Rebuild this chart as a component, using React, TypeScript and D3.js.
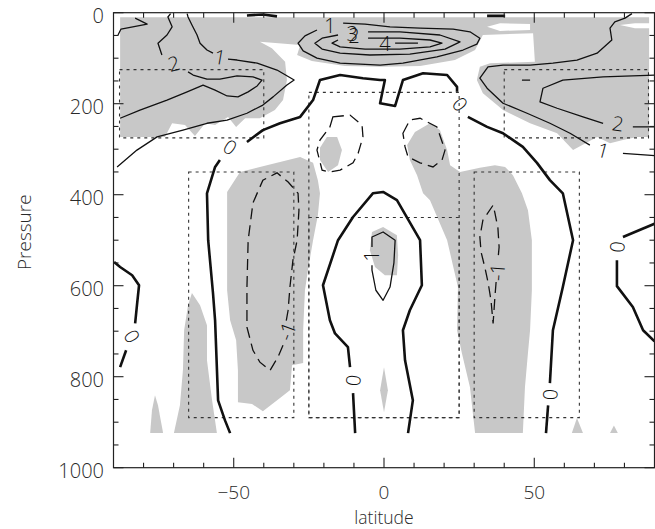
import React from 'react';
import * as d3 from 'd3';

type Pt = [number, number];

// ---------- axes ----------
const latMajorTicks = [-50, 0, 50];
const latTickLabels = ['\u221250', '0', '50'];
const latMinorTicks = [-80, -70, -60, -40, -30, -20, -10, 10, 20, 30, 40, 60, 70, 80];
const pMajorTicks = [0, 200, 400, 600, 800, 1000];
const pTickLabels = ['0', '200', '400', '600', '800', '1000'];
const pMinorTicks = [50, 100, 150, 250, 300, 350, 450, 500, 550, 650, 700, 750, 850, 900, 950];
const xTitle = 'latitude';
const yTitle = 'Pressure';

// ---------- shaded (gray) regions, [lat, pressure] ----------
const shadeTopBand: Pt[] = [[-87.8,10],[88.2,10],[88.2,273],[84.2,273],[79.5,280],[75.2,287],[70.9,273],[62.9,302],[57.6,265],[48.6,243],[39.6,214],[32.9,177],[30.9,148],[31.9,119],[35.3,111],[50.2,108],[49.6,45],[32.9,49],[30.3,82],[23.6,104],[12,117],[-1.3,119],[-13,117],[-24,106],[-28.9,93],[-27.9,71],[-41.3,64],[-37.3,78],[-32.9,108],[-32.3,148],[-33.6,192],[-36.3,214],[-41.3,232],[-46.2,232],[-49.2,251],[-51.9,229],[-56.2,247],[-59.5,243],[-62.9,271],[-66.2,247],[-70.5,243],[-72.9,273],[-87.8,273]];
const shadeSmallCenter: Pt[] = [[-19,273],[-15.6,273],[-14,302],[-15.3,335],[-18.6,350],[-21.3,324],[-21.3,297]];
const shadeRightColumn: Pt[] = [[15.3,243],[18.6,258],[21,302],[22,335],[25.3,350],[31.9,341],[36.9,335],[40.3,339],[42.9,357],[45.9,397],[47.9,434],[49.2,500],[49.2,610],[48.6,698],[47.9,748],[46.9,823],[46.2,924],[30.3,924],[28.6,823],[25.9,748],[24.3,698],[24.6,603],[21,500],[15.3,412],[13,397],[11,357],[8.6,324],[7.7,291],[10.3,262]];
const shadeLeftColumn: Pt[] = [[-27.9,317],[-23.6,330],[-22,368],[-21.3,397],[-22,445],[-23.6,500],[-25.3,566],[-26.3,610],[-26.9,698],[-26.9,770],[-30.6,775],[-31.3,830],[-34.6,847],[-40.3,876],[-43.9,860],[-48.6,856],[-48.6,786],[-49.2,720],[-51.2,676],[-52.2,610],[-52.2,394],[-47.9,350],[-41.3,339],[-34.6,328]];
const shadeSpikeA: Pt[] = [[-76.2,841],[-75.2,863],[-73.5,924],[-77.8,924],[-77.2,874]];
const shadeSpikeB: Pt[] = [[-63.9,616],[-61.2,643],[-58.9,687],[-58.9,764],[-57.2,852],[-55.6,924],[-69.9,924],[-67.9,863],[-66.9,786],[-66.5,698],[-65.2,643]];
const shadeDiamond: Pt[] = [[0,779],[1.3,830],[0,878],[-1.3,830]];
const shadeTriA: Pt[] = [[64.2,891],[66.2,924],[62.5,924]];
const shadeTriB: Pt[] = [[76.5,907],[77.8,924],[75.2,924]];
const shadeBlob: Pt[] = [[-4,482],[-0.3,471],[4.3,489],[4.7,533],[4.3,577],[0.3,577],[-3,559],[-4.7,522]];
const shadeRegions: Pt[][] = [shadeTopBand, shadeSmallCenter, shadeRightColumn, shadeLeftColumn, shadeSpikeA, shadeSpikeB, shadeDiamond, shadeTriA, shadeTriB, shadeBlob];

const holeA: Pt[] = [[34.3,31],[38.6,23],[48.6,25],[48.6,38],[38.6,40]];
const holeB: Pt[] = [[78.5,27],[83.5,23],[88.5,23],[88.5,34],[83.5,34]];
const holes: Pt[][] = [holeA, holeB];

// ---------- zero contours (thick) ----------
const zeroContours: Pt[][] = [
  [[-45.6,6],[-40.3,4],[-35.6,8]],
  [[34.3,7],[40.3,7]],
  [[-51.2,924],[-52.9,896],[-55.2,852],[-56.2,676],[-56.9,616],[-58.5,500],[-58.9,397],[-56.2,339],[-54.6,324]],
  [[-45.6,284],[-40.3,258],[-34.6,243],[-27.9,229],[-23.6,192],[-21.3,148],[-14.6,137],[-7,144],[-1.3,148],[0.3,148],[-1.3,199],[3.7,205],[6.3,148],[13,133],[21,137],[24.3,163],[24.3,174]],
  [[27.9,229],[34.3,251],[39.6,265],[46.2,295],[50.9,330],[55.2,368],[59.5,397],[62.9,500],[59.5,603],[56.2,698],[55.2,814]],
  [[54.6,863],[53.9,924]],
  [[-9.6,924],[-10,874],[-10.3,836]],
  [[-11.3,779],[-12,735],[-16.3,705],[-18,676],[-20.3,599],[-15.3,500],[-10.3,449],[-3.7,397],[-0.3,394],[4.3,412],[12,500],[12.6,599],[8.6,654],[6.3,698],[7,764],[9.6,852],[8,924]],
  [[-89.8,548],[-87.8,559],[-83.8,577],[-81.5,599],[-82.2,643],[-82.8,683]],
  [[-85.8,742],[-87.8,779]],
  [[90,464],[79.5,493]],
  [[77.5,544],[77.5,601],[82.8,647],[86.2,698],[90,722]],
];

// ---------- positive contours (thin solid) ----------
const posContours: Pt[][] = [
  [[-88.5,49],[-87.5,36],[-78.8,25],[-82.8,12]],
  [[-88.8,339],[-82.2,302],[-75.5,273],[-66.9,258],[-58.9,243],[-52.2,236],[-45.6,221],[-40.3,203],[-36.9,185],[-32.3,159],[-29.9,148],[-35.6,126],[-42.2,111],[-48.9,104],[-51.9,102]],
  [[-56.9,89],[-58.9,82],[-61.2,67],[-62.2,49],[-63.9,27],[-65.2,9.5],[-65.5,2]],
  [[-87.8,232],[-81.2,214],[-72.2,192],[-65.5,174],[-60.2,159],[-56.2,170],[-52.2,183],[-48.6,185],[-45.2,174],[-42.2,161],[-40.6,148],[-43.6,141],[-48.9,139],[-54.6,146],[-58.9,146],[-63.5,137],[-65.2,130]],
  [[-73.9,93],[-75.2,67],[-72.2,49],[-70.5,31],[-71.9,9.5],[-71,2]],
  [[-13.6,23],[-6.3,25],[2,31],[12,34],[23,36],[28.6,42],[31.9,56],[30.9,69],[26.3,82],[17.6,97],[6.3,111],[-1.3,115],[-14.6,111],[-22.3,100],[-26.9,84],[-28.6,67],[-26.3,51],[-22.3,38]],
  [[-5.3,42],[5.3,42],[18.6,49],[25.3,64],[20.3,80],[8.6,91],[-4.7,93],[-14.6,89],[-20.6,80],[-23,67],[-20.6,56],[-15.3,49]],
  [[-5.3,56],[5.3,56],[15.3,60],[19.3,67],[15.3,75],[5.3,80],[-6.3,80],[-14.6,75],[-17.3,67],[-15.3,60]],
  [[3.7,67],[11.3,67]],
  [[82.5,2],[80.2,12],[76.8,20],[75.2,34],[75.8,60],[70.9,89],[64.2,104],[56.2,111],[48.6,115],[39.6,115],[34.6,119],[31.9,144],[34.3,166],[39.6,199],[47.6,221],[55.2,243],[61.9,265],[68.5,291]],
  [[79.5,309],[87.8,313],[90,314]],
  [[90,137],[72.9,141],[59.5,148],[52.9,166],[51.9,196],[57.6,210],[66.2,229],[72.9,243]],
  [[82.8,251],[87.8,251],[90,251]],
  [[45.9,148],[48.6,148]],
  [[-4,555],[-4,566],[-2.7,610],[-0.3,632],[2,603],[3.3,550],[3.7,500],[-0.3,482],[-4,493],[-4,515]],
];

// ---------- negative contours (thin dashed) ----------
const negClosed: Pt[][] = [
  [[-17,229],[-11.3,225],[-7.3,247],[-7,273],[-8.6,309],[-10.3,330],[-14.6,346],[-18,350],[-20.6,346],[-22.3,302],[-21.3,280],[-18,251]],
  [[6.3,265],[8.6,236],[12,232],[17.6,251],[20.3,302],[19.3,324],[16.3,339],[12,330],[8,317],[7,295]],
];
const negOpen: Pt[][] = [
  [[-33.6,731],[-35.3,757],[-37.9,786],[-41.3,768],[-43.6,742],[-45.6,691],[-45.6,603],[-45.2,500],[-43.6,418],[-40.3,368],[-35.6,352],[-31.9,372],[-28.6,397],[-28.3,434],[-28.9,500],[-30.3,544],[-31.3,603],[-31.9,654],[-32.6,680]],
  [[37.3,592],[36.9,625],[36.6,654],[36.3,683],[35.6,632],[34.6,592],[33.6,561],[32.3,526],[31.9,493],[32.9,456],[36.3,423],[36.9,440],[37.9,473],[38.3,515],[37.9,544]],
];

// ---------- dotted boxes [lat0, lat1, p0, p1] ----------
const boxes: [number, number, number, number][] = [
  [-88, -40, 125, 275],
  [40, 88, 125, 275],
  [-65, -30, 350, 890],
  [30, 65, 350, 890],
  [-25, 25, 175, 890],
  [-25, 25, 450, 890],
];

// ---------- contour labels ----------
const labelText = ['0', '0', '0', '0', '0', '0', '1', '2', '1', '3', '2', '4', '1', '2', '-1', '-1', '1'];
const labelLat = [-51.2, 25.3, 55.2, -10.3, -83.8, 77.5, -54.6, -69.9, -18, -10.6, -10.0, 0.3, 72.9, 77.8, -32.3, 37.6, -4.3];
const labelP = [295, 201, 839, 808, 711, 515, 97, 111, 29, 45, 51, 67, 302, 243, 700, 570, 535];
const labelRot = [34, 50, -88, -85, 60, -85, 10, -15, 0, 0, 0, 0, 15, 8, -70, -85, -90];

const X0 = 113.5, X1 = 654.5, Y0 = 12.7, Y1 = 467.7;

export default function App() {
  const x = d3.scaleLinear().domain([-90, 90]).range([X0, X1]);
  const y = d3.scaleLinear().domain([0, 1000]).range([Y0, Y1]);
  const line = d3.line<Pt>().x(d => x(d[0])).y(d => y(d[1]));
  const closed = d3.line<Pt>().x(d => x(d[0])).y(d => y(d[1])).curve(d3.curveLinearClosed);
  const font = '"Open Sans", "DejaVu Sans", sans-serif';
  const ink = '#111';
  const txt = '#2a2a2a';

  return (
    <svg width={655} height={529} style={{ position: 'absolute', left: 0, top: 0, background: '#fff' }}>
      <defs>
        <clipPath id="plot">
          <rect x={X0} y={Y0} width={X1 - X0} height={Y1 - Y0} />
        </clipPath>
      </defs>
      <g clipPath="url(#plot)">
        {shadeRegions.map((r, i) => (
          <path key={'s' + i} d={closed(r) || ''} fill="#c8c8c8" stroke="none" />
        ))}
        {holes.map((r, i) => (
          <path key={'h' + i} d={closed(r) || ''} fill="#fff" stroke="none" />
        ))}
        {boxes.map((b, i) => (
          <rect key={'b' + i} x={x(b[0])} y={y(b[2])} width={x(b[1]) - x(b[0])} height={y(b[3]) - y(b[2])}
            fill="none" stroke="#333" strokeWidth={1.1} strokeDasharray="3,4" />
        ))}
        {zeroContours.map((c, i) => (
          <path key={'z' + i} d={line(c) || ''} fill="none" stroke={ink} strokeWidth={2.6} strokeLinejoin="round" />
        ))}
        {posContours.map((c, i) => (
          <path key={'p' + i} d={line(c) || ''} fill="none" stroke={ink} strokeWidth={1.3} strokeLinejoin="round" />
        ))}
        {negClosed.map((c, i) => (
          <path key={'nc' + i} d={closed(c) || ''} fill="none" stroke={ink} strokeWidth={1.3} strokeDasharray="11,6" />
        ))}
        {negOpen.map((c, i) => (
          <path key={'no' + i} d={line(c) || ''} fill="none" stroke={ink} strokeWidth={1.3} strokeDasharray="11,6" />
        ))}
        {labelText.map((t, i) => (
          <text key={'l' + i} x={0} y={0} transform={`translate(${x(labelLat[i])},${y(labelP[i])}) rotate(${labelRot[i]})`}
            textAnchor="middle" dominantBaseline="central" fontFamily={font} fontWeight={300} fontSize={20} fill={ink}>{t}</text>
        ))}
      </g>
      {/* frame */}
      <rect x={X0} y={Y0} width={X1 - X0} height={Y1 - Y0} fill="none" stroke="#222" strokeWidth={1.2} />
      {latMajorTicks.map(t => (
        <g key={'xm' + t}>
          <line x1={x(t)} x2={x(t)} y1={Y1} y2={Y1 - 10} stroke="#222" strokeWidth={1.1} />
          <line x1={x(t)} x2={x(t)} y1={Y0} y2={Y0 + 10} stroke="#222" strokeWidth={1.1} />
        </g>
      ))}
      {latMinorTicks.map(t => (
        <g key={'xn' + t}>
          <line x1={x(t)} x2={x(t)} y1={Y1} y2={Y1 - 5} stroke="#222" strokeWidth={1.1} />
          <line x1={x(t)} x2={x(t)} y1={Y0} y2={Y0 + 5} stroke="#222" strokeWidth={1.1} />
        </g>
      ))}
      {pMajorTicks.map(t => (
        <g key={'ym' + t}>
          <line x1={X0} x2={X0 + 10} y1={y(t)} y2={y(t)} stroke="#222" strokeWidth={1.1} />
          <line x1={X1} x2={X1 - 10} y1={y(t)} y2={y(t)} stroke="#222" strokeWidth={1.1} />
        </g>
      ))}
      {pMinorTicks.map(t => (
        <g key={'yn' + t}>
          <line x1={X0} x2={X0 + 5} y1={y(t)} y2={y(t)} stroke="#222" strokeWidth={1.1} />
          <line x1={X1} x2={X1 - 5} y1={y(t)} y2={y(t)} stroke="#222" strokeWidth={1.1} />
        </g>
      ))}
      {latMajorTicks.map((t, i) => (
        <text key={'xl' + t} x={x(t)} y={492} textAnchor="middle" dominantBaseline="central"
          fontFamily={font} fontWeight={300} fontSize={19} fill={txt}>{latTickLabels[i]}</text>
      ))}
      {pMajorTicks.map((t, i) => (
        <text key={'yl' + t} x={104} y={y(t) + 3} textAnchor="end" dominantBaseline="central"
          fontFamily={font} fontWeight={300} fontSize={20} fill={txt}>{pTickLabels[i]}</text>
      ))}
      <text x={(X0 + X1) / 2} y={517} textAnchor="middle" dominantBaseline="central"
        fontFamily={font} fontWeight={300} fontSize={17.5} fill={txt}>{xTitle}</text>
      <text transform={`translate(24,${(Y0 + Y1) / 2 - 8}) rotate(-90)`} textAnchor="middle" dominantBaseline="central"
        fontFamily={font} fontWeight={300} fontSize={19} fill={txt}>{yTitle}</text>
    </svg>
  );
}
